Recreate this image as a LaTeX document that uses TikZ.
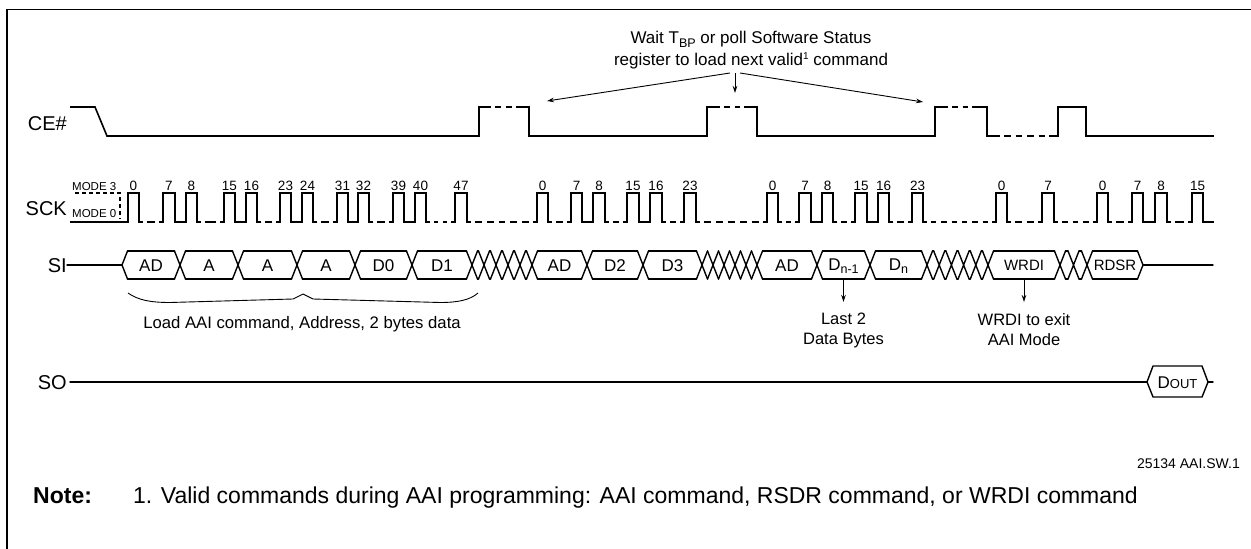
\documentclass[tikz,border=0pt]{standalone}
\usepackage{fontspec}
\setmainfont{Liberation Sans}
\usetikzlibrary{arrows.meta}
\newcommand\fs[1]{\fontsize{#1}{#1}\selectfont}
\newcommand\dmid[3]{%
  \pgfmathsetmacro\dmL{(#2)-(#1)}%
  \pgfmathsetmacro\dmN{max(1,round((\dmL-5)/11))}%
  \pgfmathsetmacro\dmD{(\dmL-5*(\dmN+1))/\dmN}%
  \draw[wave,line cap=butt,dash pattern=on \dmD pt off 5pt] ({#1+5},#3) -- ({#2-5},#3);}
\begin{document}
\begin{tikzpicture}[x=1pt,y=-1pt,
  wave/.style={line width=1.6pt, line cap=rect, line join=miter},
  sig/.style={anchor=base east, inner sep=0pt, font=\fs{20}},
  num/.style={anchor=base, inner sep=0pt, font=\fs{13.5}},
  bus/.style={line width=1.4pt, line cap=round, line join=round},
  blab/.style={anchor=base, inner sep=0pt, font=\fs{17}},
  slab/.style={anchor=base, inner sep=0pt, font=\fs{15}},
  txt/.style={anchor=north, inner sep=0pt, font=\fontsize{16.5}{20}\selectfont, align=center},
  arr/.style={line width=0.9pt, -{Stealth[length=7pt,width=4.5pt]}},
]
\useasboundingbox (0,0) rectangle (1251,549);
\fill[white] (0,0) rectangle (1251,549);
\draw[line width=1.2pt] (7,549) -- (7,9.5) -- (1251,9.5);

% signal labels
\node[sig] (ce) at (67,130) {CE\#};
\node[sig] (sck) at (67,215) {SCK};
\node[sig] (si) at (67,272) {SI};
\node[sig] (so) at (67,389) {SO};

% CE# waveform
\draw[wave] (71,107) -- (95,107) -- (107,136) -- (479,136) -- (479,107) -- (490,107);
\dmid{490}{517}{107}
\draw[wave] (517,107) -- (529,107) -- (529,136) -- (707,136) -- (707,107) -- (719,107);
\dmid{719}{745}{107}
\draw[wave] (745,107) -- (757,107) -- (757,136) -- (935,136) -- (935,107) -- (947,107);
\dmid{947}{973}{107}
\draw[wave] (973,107) -- (987,107) -- (987,136) -- (999,136);
\dmid{999}{1050}{136}
\draw[wave] (1050,136) -- (1058,136) -- (1058,107) -- (1086,107) -- (1086,136) -- (1213,136);

% SCK
\draw[line width=1.1pt, dash pattern=on 4pt off 3pt] (75,193) -- (120,193) -- (120,219);
\node[anchor=base west, inner sep=0pt, font=\fs{11.5}] (m3) at (72,190) {MODE 3};
\node[anchor=base west, inner sep=0pt, font=\fs{11.5}] (m0) at (72,217) {MODE 0};
\foreach \r/\f/\l in {128/139/0, 163/175/7, 186/197/8, 224/235/15, 246/257/16, 280/291/23,
  302/313/24, 337/348/31, 358/369/32, 393/404/39, 415/426/40, 455/467/47,
  537/548/0, 571/582/7, 593/605/8, 627/639/15, 650/662/16, 684/696/23,
  767/778/0, 799/811/7, 822/833/8, 855/867/15, 878/889/16, 912/923/23,
  996/1007/0, 1042/1054/7, 1097/1108/0, 1132/1143/7, 1155/1167/8, 1192/1203/15}
{
  \draw[wave] (\r,222) -- (\r,193) -- (\f,193) -- (\f,222);
  \node[num] (n\r) at ({(\r+\f)/2},190) {\l};
}
\foreach \a/\b in {71/128, 175/186, 235/246, 291/302, 348/358, 404/415, 582/593, 639/650,
  811/822, 867/878, 1143/1155, 1203/1213}
  \draw[wave] (\a,222) -- (\b,222);
\foreach \a/\b in {139/163, 197/224, 257/280, 313/337, 369/393, 426/455, 467/537, 548/571,
  605/627, 662/684, 696/767, 778/799, 833/855, 889/912, 923/996, 1007/1042, 1054/1097,
  1108/1132, 1167/1192}
{
  \draw[wave] (\a,222) -- ++(3,0) (\b,222) -- ++(-3,0);
  \dmid{\a+3}{\b-3}{222}
}

% SI bus
\draw[bus] (67,265) -- (122,265);
\draw[bus] (127.5,251) -- (122,265) -- (127.5,279);
\draw[bus] (1137.5,251) -- (1143,265) -- (1137.5,279);
\draw[bus] (1143,265) -- (1213,265);
\foreach \c in {180,238,297,355,412,472,484,496,508,520,532,587,643,702,713,724,735,746,757,
  817,870,927,939.2,951.4,963.6,975.8,988,1060,1073.5,1087}
  \draw[bus] (\c-5.5,251) -- (\c+5.5,279) (\c-5.5,279) -- (\c+5.5,251);
\foreach \a/\b in {122/180,180/238,238/297,297/355,355/412,412/472,472/484,484/496,496/508,
  508/520,520/532,532/587,587/643,643/702,702/713,713/724,724/735,735/746,746/757,757/817,
  817/870,870/927,927/939.2,939.2/951.4,951.4/963.6,963.6/975.8,975.8/988,988/1060,
  1060/1073.5,1073.5/1087,1087/1143}
  \draw[bus] (\a+5.5,251) -- (\b-5.5,251) (\a+5.5,279) -- (\b-5.5,279);
\node[blab] (b1) at (151,271) {AD};
\node[blab] (b2) at (209,271) {A};
\node[blab] (b3) at (267.5,271) {A};
\node[blab] (b4) at (326,271) {A};
\node[blab] (b5) at (383.5,271) {D0};
\node[blab] (b6) at (442,271) {D1};
\node[blab] (b7) at (559.5,271) {AD};
\node[blab] (b8) at (615,271) {D2};
\node[blab] (b9) at (672.5,271) {D3};
\node[blab] (b10) at (787,271) {AD};
\node[blab] (b11) at (843.5,270) {D\raisebox{-3.5pt}{\fs{12.5}n-1}};
\node[blab] (b12) at (898.5,270) {D\raisebox{-3.5pt}{\fs{12.5}n}};
\node[slab] (b13) at (1024,270.5) {WRDI};
\node[slab] (b14) at (1115,270.5) {RDSR};

% brace + label
\draw[line width=0.9pt] (128,293) .. controls (138,300) and (150,302.5) .. (170,302.5)
  -- (293,299) -- (303,294) -- (313,299) -- (440,302.5)
  .. controls (458,302.5) and (470,300) .. (478,293);
\node[anchor=base, inner sep=0pt, font=\fs{16.7}] (load) at (302,328) {Load AAI command, Address, 2 bytes data};

% annotations under SI
\coordinate (dn1) at (843.5,279);
\coordinate (dn1e) at (843.5,302);
\draw[arr] (dn1) -- (dn1e);
\node[txt] (last) at (843.5,313) {Last 2\\Data Bytes};
\coordinate (wr) at (1024,279);
\coordinate (wre) at (1024,302);
\draw[arr] (wr) -- (wre);
\node[txt] (wrt) at (1024,313) {WRDI to exit\\AAI Mode};

% title annotation
\node[anchor=base, inner sep=0pt, font=\fs{17}] (t1) at (751,43) {Wait T\raisebox{-4pt}{\fs{12.5}BP} or poll Software Status};
\node[anchor=base, inner sep=0pt, font=\fs{17}] (t2) at (751,65) {register to load next valid\raisebox{6pt}{\fs{10}1} command};
\coordinate (sl) at (730,73);
\coordinate (sm) at (735,73);
\coordinate (sr) at (740,73);
\coordinate (el) at (547,101);
\coordinate (em) at (735,93);
\coordinate (er) at (923,102);
\draw[arr] (sl) -- (el);
\draw[arr] (sm) -- (em);
\draw[arr] (sr) -- (er);

% SO
\draw[bus] (70,382) -- (1147,382);
\draw[bus] (1147,382) -- (1153,366) -- (1202,366) -- (1208,382) -- (1202,397) -- (1153,397) -- cycle;
\draw[bus] (1208,382) -- (1213,382);
\node[anchor=base, inner sep=0pt, font=\fs{17}] (dout) at (1177.5,388) {D{\fs{13}OUT}};

% footer
\node[anchor=base east, inner sep=0pt, font=\fs{14}] (fid) at (1240,468) {25134 AAI.SW.1};
\node[anchor=base west, inner sep=0pt, font=\fs{23}\bfseries] (note) at (33,503) {Note:};
\node[anchor=base west, inner sep=0pt, font=\fs{23}] (notet) at (133,503) {1. Valid commands during AAI programming: AAI command, RSDR command, or WRDI command};
\end{tikzpicture}
\end{document}
